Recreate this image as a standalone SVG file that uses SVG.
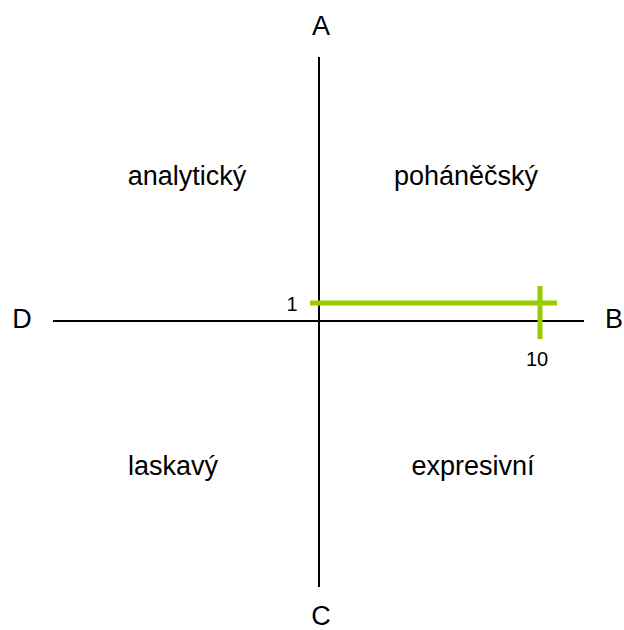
<svg xmlns="http://www.w3.org/2000/svg" width="624" height="630" viewBox="0 0 624 630">
<style>
text{font-family:"Liberation Sans",Arial,sans-serif;fill:#000;text-anchor:middle}
.big{font-size:27px}
.small{font-size:20px}
.axis{stroke:#000;stroke-width:2;fill:none}
.green{stroke:#99cc00;stroke-width:5;fill:none}
</style>
<rect width="624" height="630" fill="#fff"/>
<g id="connectors">
<line class="axis" x1="319" y1="57" x2="319" y2="587"/>
<line class="axis" x1="53" y1="321" x2="584" y2="321"/>
<line class="green" x1="310" y1="303" x2="557" y2="303"/>
<line class="green" x1="540" y1="286" x2="540" y2="339"/>
</g>
<g id="label-A"><text class="big" x="321" y="35">A</text></g>
<g id="label-B"><text class="big" x="614" y="328">B</text></g>
<g id="label-C"><text class="big" x="321" y="625">C</text></g>
<g id="label-D"><text class="big" x="22" y="328">D</text></g>
<g id="q-analyticky"><text class="big" x="187" y="185">analytický</text></g>
<g id="q-pohanecsky"><text class="big" x="466" y="185">poháněčský</text></g>
<g id="q-laskavy"><text class="big" x="173" y="475">laskavý</text></g>
<g id="q-expresivni"><text class="big" x="473" y="475">expresivní</text></g>
<g id="tick-1"><text class="small" x="292" y="311">1</text></g>
<g id="tick-10"><text class="small" x="537" y="366">10</text></g>
</svg>
